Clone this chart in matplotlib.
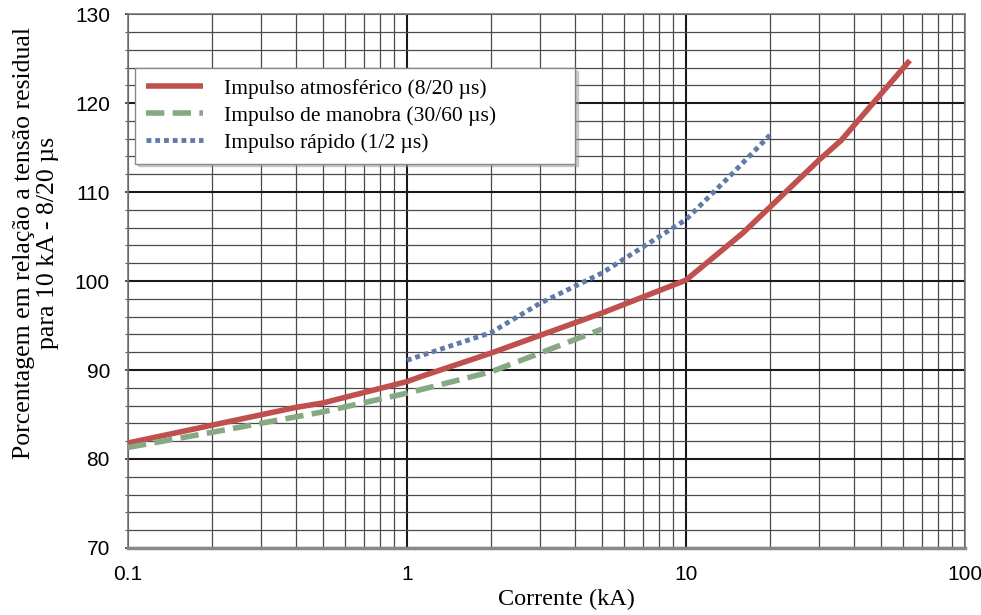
import matplotlib
matplotlib.use("Agg")
import matplotlib.pyplot as plt
from matplotlib.ticker import FixedLocator, NullFormatter, LogLocator

# Residual voltage (% of the 10 kA 8/20 µs value) versus discharge current
atm_current = [0.1, 0.2, 0.4, 0.5, 1.0, 1.13, 2.0, 5.0, 10.0, 16.0, 20.0, 30.0, 36.0, 63.5]
atm_percent = [81.8, 83.8, 85.8, 86.3, 88.7, 89.3, 91.9, 96.4, 100.1, 105.4, 108.3, 113.6, 115.8, 124.8]

man_current = [0.1, 0.2, 0.5, 1.0, 2.0, 3.0, 5.0]
man_percent = [81.3, 83.0, 85.3, 87.4, 89.8, 91.9, 94.6]

fast_current = [1.0, 2.0, 3.0, 5.0, 10.0, 14.7, 20.0]
fast_percent = [91.1, 94.2, 97.5, 100.9, 106.9, 112.1, 116.4]

x_ticks = [0.1, 1, 10, 100]
x_tick_labels = ["0.1", "1", "10", "100"]
y_ticks = [70, 80, 90, 100, 110, 120, 130]

labels = ["Impulso atmosférico (8/20 µs)",
          "Impulso de manobra (30/60 µs)",
          "Impulso rápido (1/2 µs)"]

serif = ["Liberation Serif", "DejaVu Serif"]
sans = ["Liberation Sans", "DejaVu Sans"]

fig = plt.figure(figsize=(9.81, 6.15), dpi=100)
ax = fig.add_axes([0.1305, 0.109, 0.853, 0.868])

ax.set_xscale("log")
ax.set_xlim(0.1, 100)
ax.set_ylim(70, 130)

ax.xaxis.set_major_locator(FixedLocator(x_ticks))
ax.set_xticklabels(x_tick_labels, fontfamily=sans, fontsize=15)
ax.xaxis.set_minor_locator(LogLocator(base=10, subs=range(2, 10)))
ax.xaxis.set_minor_formatter(NullFormatter())

ax.yaxis.set_major_locator(FixedLocator(y_ticks))
ax.set_yticklabels([str(v) for v in y_ticks], fontfamily=sans, fontsize=15)
ax.yaxis.set_minor_locator(FixedLocator([v for v in range(70, 131, 2) if v % 10]))

ax.grid(which="major", color="#1a1a1a", linewidth=1.5, zorder=0)
ax.grid(which="minor", color="#4a4a4a", linewidth=0.9, zorder=0)
ax.tick_params(axis="x", which="both", length=0, pad=12)
ax.tick_params(axis="y", which="major", length=2, width=1.2, color="#333333", pad=11)
ax.tick_params(axis="y", which="minor", length=2, width=0.8, color="#555555")

for side in ["top", "right", "left"]:
    ax.spines[side].set_color("#777777")
    ax.spines[side].set_linewidth(1.2)
ax.spines["bottom"].set_color("#888888")
ax.spines["bottom"].set_linewidth(2.5)

ax.plot(atm_current, atm_percent, color="#c0504d", linewidth=4, solid_capstyle="butt",
        label=labels[0], zorder=3)
ax.plot(man_current, man_percent, color="#86a983", linewidth=4, linestyle=(0, (3.3, 1.5)),
        label=labels[1], zorder=3)
ax.plot(fast_current, fast_percent, color="#5f7aab", linewidth=3.5, linestyle=(0, (1, 0.8)),
        label=labels[2], zorder=3)

ax.set_xlabel("Corrente (kA)", fontfamily=serif, fontsize=17.5)
ax.xaxis.set_label_coords((567 - 128) / 837, -(589 - 548) / 534)
ax.set_ylabel("Porcentagem em relação a tensão residual\npara 10 kA - 8/20 µs",
              fontfamily=serif, fontsize=18.5, linespacing=1.1)
ax.yaxis.set_label_coords((59 - 128) / 837, (548 - 243) / 534)

# Legend box spans a fixed width in the upper-left part of the axes
leg_x0 = (135 - 128) / 837
leg_w = 440 / 837
leg_top = (548 - 68) / 534
leg = ax.legend(loc="upper left", bbox_to_anchor=(leg_x0, leg_top - 0.3, leg_w, 0.3),
                mode="expand", prop={"family": serif, "size": 15.5},
                frameon=True, fancybox=False, shadow={"color": "#999999", "alpha": 0.45},
                edgecolor="#888888", framealpha=1, borderpad=0.5, handlelength=2.65,
                handletextpad=1.0, labelspacing=0.32, borderaxespad=0.0)
leg.get_frame().set_linewidth(1.0)
leg.set_zorder(5)

fig.savefig("out.png", dpi=100)
